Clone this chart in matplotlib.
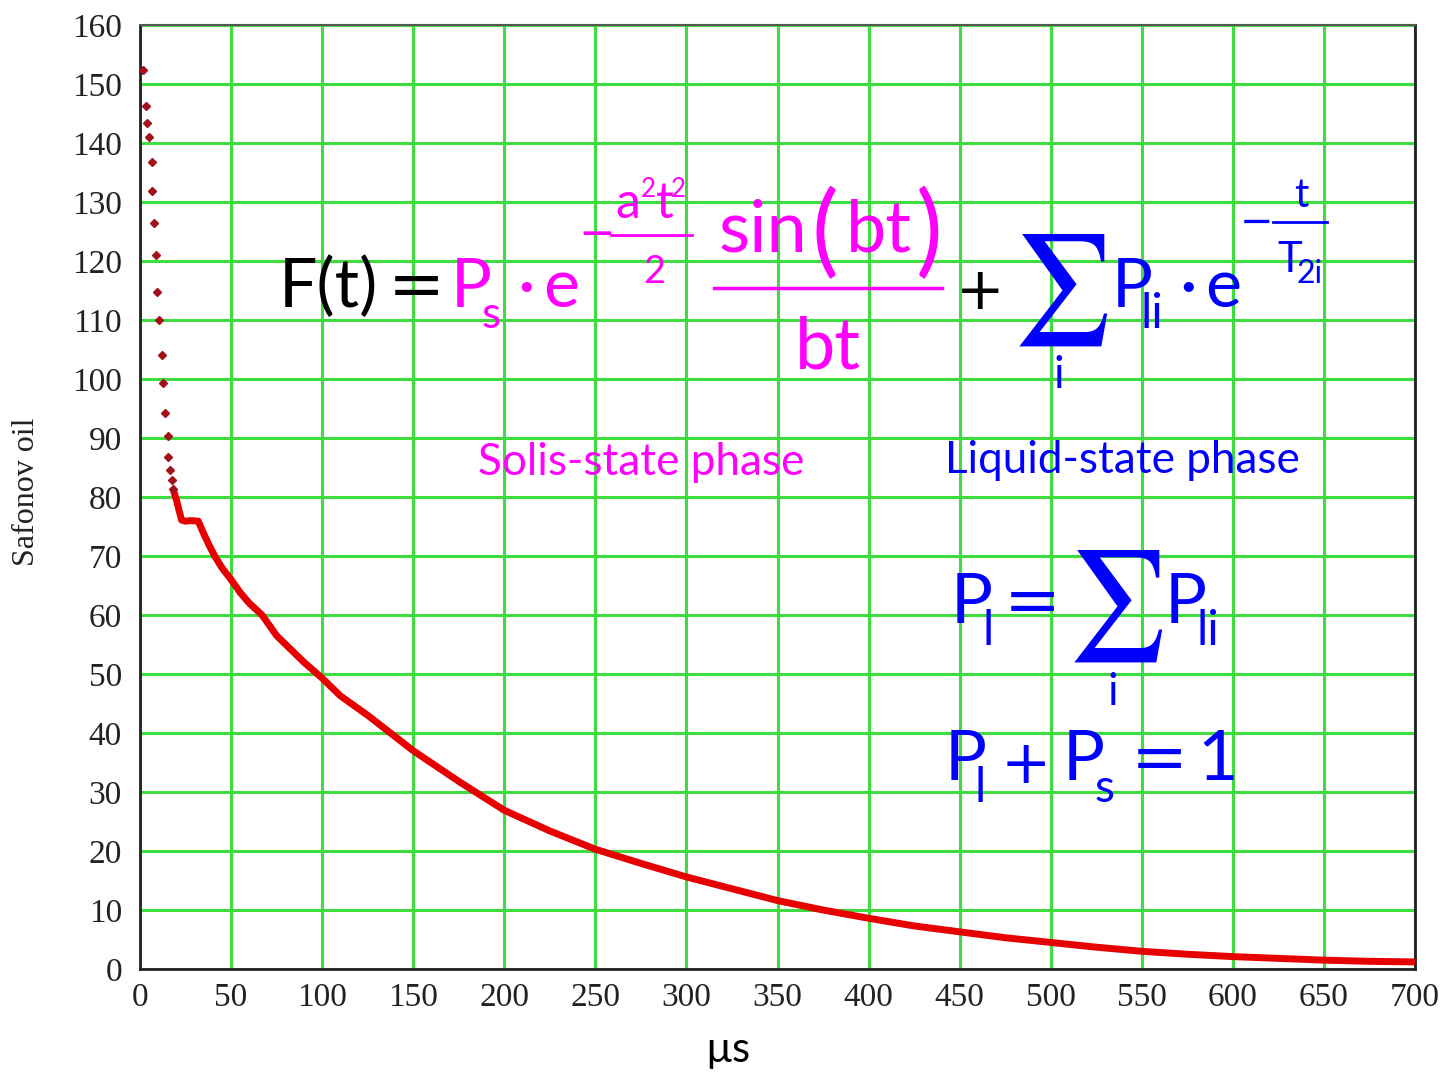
import matplotlib
matplotlib.use('Agg')
import matplotlib.pyplot as plt
from matplotlib.lines import Line2D

# sparse early points (solid-state part)
early_t = [1.8, 3.3, 3.7, 4.9, 6.4, 6.6, 7.7, 9.0, 9.3, 10.6, 12.1, 12.4, 13.5, 15.4, 15.3, 16.5, 17.8, 18.3]
early_y = [152.3, 146.3, 143.4, 141.1, 136.7, 131.8, 126.4, 121.0, 114.7, 110.0, 104.1, 99.4, 94.3, 90.3, 86.7, 84.6, 82.8, 81.4]

# dense decay curve
decay_t = [18.5, 20, 22.8, 25, 28, 32, 34.8, 38, 41, 45, 50, 55, 60, 67, 75, 80, 90, 100, 110, 125,
           150, 175, 200, 225, 250, 275, 300, 325, 350, 375, 400, 425, 450, 475, 500, 525, 550, 575,
           600, 625, 650, 675, 700]
decay_y = [81.0, 79.5, 76.1, 75.9, 76.0, 75.9, 73.9, 71.8, 70.0, 68.0, 66.0, 63.8, 62.0, 60.0, 56.5, 55.0, 52.0, 49.3, 46.3, 43.0,
           37.0, 31.8, 26.9, 23.4, 20.3, 17.9, 15.6, 13.6, 11.6, 10.0, 8.6, 7.3, 6.3, 5.3, 4.5, 3.7, 3.0, 2.5,
           2.1, 1.8, 1.5, 1.3, 1.2]

x_ticks = list(range(0, 701, 50))
y_ticks = list(range(0, 161, 10))

W, H = 1441, 1074
fig = plt.figure(figsize=(W / 100, H / 100), dpi=100)
ax = fig.add_axes([140 / W, 1 - 969 / H, (1415 - 140) / W, (969 - 25) / H])

ax.plot(decay_t, decay_y, color='#e60000', lw=5, solid_capstyle='round', zorder=3)
ax.plot(early_t, early_y, ls='none', marker='D', ms=3.6, color='#a3121a', zorder=4)

ax.set_xlim(0, 700)
ax.set_ylim(0, 160)
ax.set_xticks(x_ticks)
ax.set_yticks(y_ticks)
ax.grid(True, color='#3fdc3f', lw=2.2)
ax.set_axisbelow(True)
ax.tick_params(length=0, labelsize=24)
ax.tick_params(axis='y', pad=13)
ax.tick_params(axis='x', pad=10)
for lab in ax.get_xticklabels() + ax.get_yticklabels():
    lab.set_family('Liberation Serif')
    lab.set_color('#222222')
for s in ['left', 'bottom', 'right']:
    ax.spines[s].set_color('#222222')
    ax.spines[s].set_linewidth(2)
ax.spines['top'].set_color('#555555')
ax.spines['top'].set_linewidth(1.5)

fig.text(27 / W, 1 - 492 / H, 'Safonov oil', rotation=90, ha='center', va='center',
         fontsize=23, family='Liberation Serif', color='#222222')
fig.text(728 / W, 1 - 1062 / H, 'µs', ha='center', va='baseline', fontsize=30, family='Lato', color='black')

MAG = '#ff00ff'
BLUE = '#0000ff'
FONT = 'Lato'


def put(s, x, y, px, color, ha='left', family=FONT):
    fig.text(x / W, 1 - y / H, s, fontsize=px * 0.72, color=color, ha=ha, va='baseline', family=family)


def sigma(x, y, px, color):
    fig.text(x / W, 1 - y / H, r'$\sum$', fontsize=px * 0.72, color=color, ha='center', va='baseline',
             math_fontfamily='stix')


def bar(x1, x2, y, color, lw=2):
    fig.add_artist(Line2D([x1 / W, x2 / W], [1 - y / H, 1 - y / H], color=color, lw=lw))


# F(t) = Ps . e^(-a^2 t^2 / 2) sin(bt)/bt + sum Pli . e^(-t/T2i)
put('F(t)', 279, 307, 68, 'black')
put('=', 416, 307, 68, 'black', ha='center', family='DejaVu Sans')
put('P', 451, 307, 68, MAG)
put('s', 481, 328, 44, MAG)
put('·', 526, 307, 68, MAG, ha='center')
put('e', 543, 307, 68, MAG)
put('−', 597, 247, 44, MAG, ha='center', family='DejaVu Sans')
put('a', 615, 218, 50, MAG)
put('2', 641, 197, 26, MAG)
put('t', 656, 218, 50, MAG)
put('2', 671, 197, 26, MAG)
bar(611, 692, 235, MAG)
put('2', 654, 283, 38, MAG, ha='center')
put('sin', 719, 251, 72, MAG)
put('(', 825, 264, 100, MAG, ha='center')
put('bt', 846, 251, 72, MAG)
put(')', 929, 264, 100, MAG, ha='center')
bar(714, 942, 288, MAG, lw=2.5)
put('bt', 828, 368, 72, MAG, ha='center')
put('+', 980, 309, 58, 'black', ha='center', family='DejaVu Sans')
sigma(1060, 318, 110, BLUE)
put('i', 1059, 388, 44, BLUE, ha='center')
put('P', 1112, 307, 68, BLUE)
put('li', 1141, 328, 48, BLUE)
put('·', 1188, 307, 68, BLUE, ha='center')
put('e', 1205, 307, 68, BLUE)
put('−', 1257, 234, 40, BLUE, ha='center', family='DejaVu Sans')
put('t', 1301, 207, 40, BLUE, ha='center')
bar(1273, 1327, 222, BLUE)
put('T', 1277, 272, 42, BLUE)
put('2i', 1296, 283, 32, BLUE)

put('Solis-state phase', 478, 475, 44, MAG)
put('Liquid-state phase', 945, 473, 44, BLUE)

# P_l = sum P_li
put('P', 951, 623, 70, BLUE)
put('l', 982, 645, 48, BLUE)
put('=', 1032, 623, 68, BLUE, ha='center', family='DejaVu Sans')
sigma(1115, 634, 110, BLUE)
put('i', 1113, 705, 44, BLUE, ha='center')
put('P', 1165, 623, 70, BLUE)
put('li', 1196, 645, 48, BLUE)

# P_l + P_s = 1
put('P', 945, 780, 70, BLUE)
put('l', 975, 802, 48, BLUE)
put('+', 1026, 783, 60, BLUE, ha='center', family='DejaVu Sans')
put('P', 1063, 780, 70, BLUE)
put('s', 1094, 802, 46, BLUE)
put('=', 1159, 780, 68, BLUE, ha='center', family='DejaVu Sans')
put('1', 1197, 780, 70, BLUE)

fig.savefig('out.png', dpi=100)
